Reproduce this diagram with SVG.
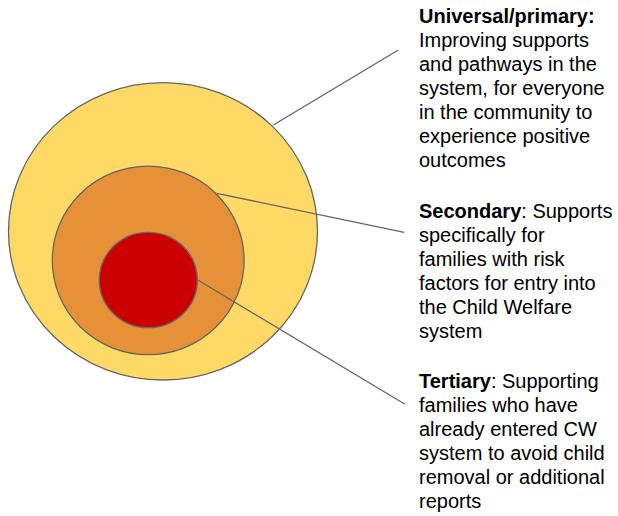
<svg xmlns="http://www.w3.org/2000/svg" width="618" height="516" viewBox="0 0 618 516">
<style>
.c{stroke:#666;stroke-width:1.3}
.l{stroke:#666;stroke-width:1.3;fill:none}
text{font-family:"Liberation Sans",Arial,sans-serif;font-size:20px;fill:#000}
.b{font-weight:bold}
</style>
<rect width="618" height="516" fill="#fff"/>
<g id="primary"><ellipse class="c" cx="163" cy="231.3" rx="154.5" ry="148.7" fill="#FFD966"/></g>
<g id="secondary"><ellipse class="c" cx="148.2" cy="260.4" rx="95.9" ry="94.3" fill="#E69138"/></g>
<g id="tertiary"><ellipse class="c" cx="148.3" cy="280" rx="49" ry="47.7" fill="#CC0000"/></g>
<g id="connectors">
<line class="l" x1="273.3" y1="125" x2="398.3" y2="50"/>
<line class="l" x1="216.7" y1="193.3" x2="404.3" y2="232.3"/>
<line class="l" x1="197.7" y1="280" x2="405" y2="404.3"/>
</g>
<g id="label-primary">
<text x="419" y="23"><tspan class="b">Universal/primary:</tspan></text>
<text x="419" y="47">Improving supports</text>
<text x="419" y="71">and pathways in the</text>
<text x="419" y="95">system, for everyone</text>
<text x="419" y="119">in the community to</text>
<text x="419" y="143">experience positive</text>
<text x="419" y="167">outcomes</text>
</g>
<g id="label-secondary">
<text x="419" y="218"><tspan class="b">Secondary</tspan>: Supports</text>
<text x="419" y="242">specifically for</text>
<text x="419" y="266">families with risk</text>
<text x="419" y="290">factors for entry into</text>
<text x="419" y="314">the Child Welfare</text>
<text x="419" y="338">system</text>
</g>
<g id="label-tertiary">
<text x="419" y="388"><tspan class="b">Tertiary</tspan>: Supporting</text>
<text x="419" y="412">families who have</text>
<text x="419" y="436">already entered CW</text>
<text x="419" y="460">system to avoid child</text>
<text x="419" y="484">removal or additional</text>
<text x="419" y="508">reports</text>
</g>
</svg>
